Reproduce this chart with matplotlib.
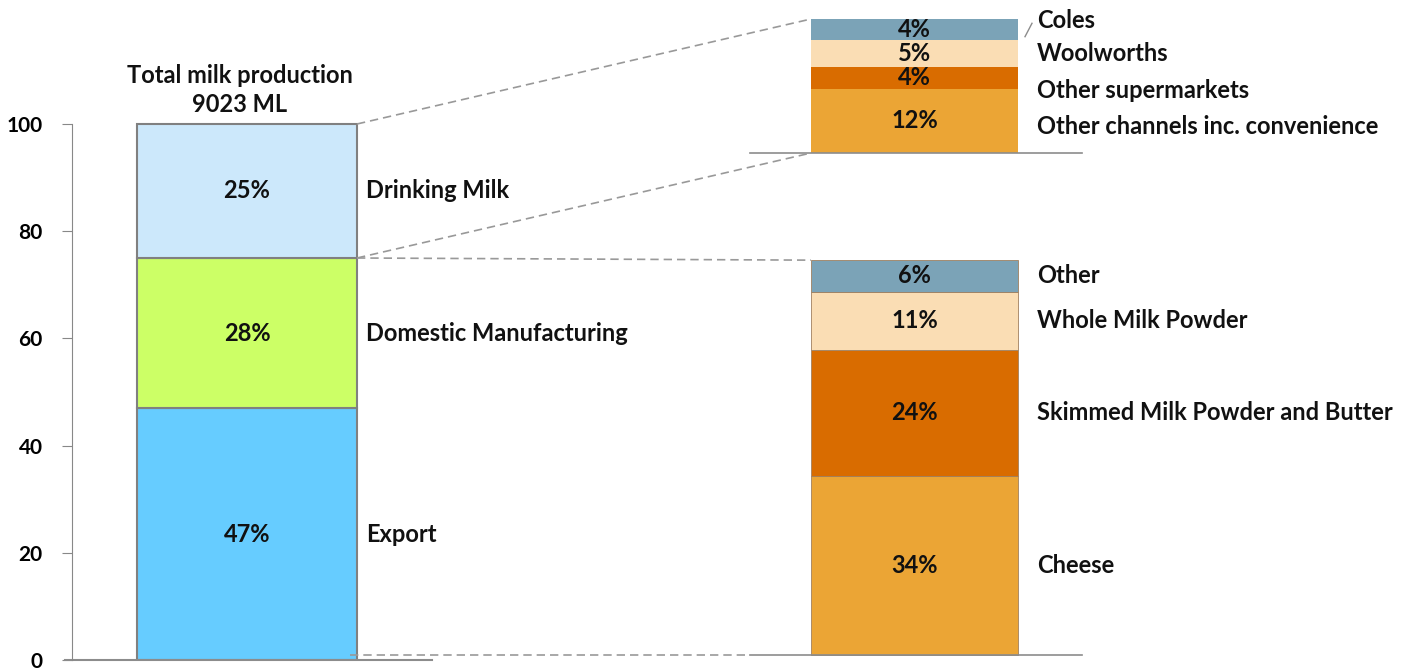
import numpy as np
import matplotlib.pyplot as plt

plt.rcParams['font.family'] = ['Lato', 'DejaVu Sans']

# left bar: total milk use (%)
main_labels = ["Export", "Domestic Manufacturing", "Drinking Milk"]
main_values = [47, 28, 25]
main_colors = ["#66CCFF", "#CCFF66", "#CCE8FB"]

# drinking milk split (%)
drink_labels = ["Other channels inc. convenience", "Other supermarkets", "Woolworths", "Coles"]
drink_values = [12, 4, 5, 4]
drink_colors = ["#EBA535", "#D96C00", "#FADDB4", "#7BA3B7"]

# manufacturing / export split (%)
manu_labels = ["Cheese", "Skimmed Milk Powder and Butter", "Whole Milk Powder", "Other"]
manu_values = [34, 24, 11, 6]
manu_colors = ["#EBA535", "#D96C00", "#FADDB4", "#7BA3B7"]

title = "Total milk production\n9023 ML"

W, H = 1423, 670
fig = plt.figure(figsize=(W / 100, H / 100), dpi=100)
ax = fig.add_axes([72 / W, 10 / H, (W - 72) / W, 660 / H])
ymax = 660 / 5.36
ax.set_xlim(72, W)
ax.set_ylim(0, ymax)

for s in ["top", "right", "bottom"]:
    ax.spines[s].set_visible(False)
ax.spines["left"].set_bounds(0, 100)
ax.spines["left"].set_color("#888888")
ax.set_xticks([])
ax.set_yticks(np.arange(0, 101, 20))
ax.tick_params(axis="y", length=7, color="#888888", labelsize=15, pad=14)
for t in ax.get_yticklabels():
    t.set_fontweight("bold")

gray = "#8C8C8C"
txt_kw = dict(fontsize=17, fontweight="bold", color="#111111", va="center")

# left bar
lx, lw = 247, 220
bot = 0
for lab, v, c in zip(main_labels, main_values, main_colors):
    ax.bar(lx, v, bottom=bot, width=lw, color=c, edgecolor="#808080", linewidth=1.5)
    ax.text(lx, bot + v / 2, f"{v}%", ha="center", **txt_kw)
    ax.text(366, bot + v / 2, lab, ha="left", **txt_kw)
    bot += v
ax.text(lx - 7, 100 + 1.4, title, ha="center", va="bottom", fontsize=17,
        fontweight="bold", color="#111111", linespacing=1.35)
ax.plot([65, 432], [0, 0], color=gray, lw=1.5, clip_on=False)

# upper right bar
rx, rw = 914.5, 207
d0 = (660 - 153) / 5.36
drink_label_y = [99.6, 106.3, 113.1, 119.4]
bot = d0
for lab, v, c, ly in zip(drink_labels, drink_values, drink_colors, drink_label_y):
    ax.bar(rx, v, bottom=bot, width=rw, color=c, edgecolor="none")
    ax.text(rx, bot + v / 2, f"{v}%", ha="center", **txt_kw)
    ax.text(1037, ly, lab, ha="left", **txt_kw)
    bot += v
d1 = bot
ax.plot([750, 1082], [d0, d0], color=gray, lw=1.2)
ax.plot([1025, 1032], [d1 - 3.3, d1 - 0.8], color=gray, lw=1)

# lower right bar
m0 = 0.9
scale = (74.6 - m0) / sum(manu_values)
bot = m0
for lab, v, c in zip(manu_labels, manu_values, manu_colors):
    h = v * scale
    ax.bar(rx, h, bottom=bot, width=rw, color=c, edgecolor="#A08060", linewidth=0.6)
    ax.text(rx, bot + h / 2, f"{v}%", ha="center", **txt_kw)
    ax.text(1037, bot + h / 2, lab, ha="left", **txt_kw)
    bot += h
m1 = bot
ax.plot([750, 1082], [m0, m0], color=gray, lw=1.2)

# connector lines
dash = dict(color="#999999", lw=1.2, ls=(0, (5, 3)))
ax.plot([357, rx - rw / 2], [100, d1], **dash)
ax.plot([357, rx - rw / 2], [75, d0], **dash)
ax.plot([357, rx - rw / 2], [75, m1], **dash)
ax.plot([350, 750], [m0, m0], **dash)

fig.savefig("out.png", dpi=100)
